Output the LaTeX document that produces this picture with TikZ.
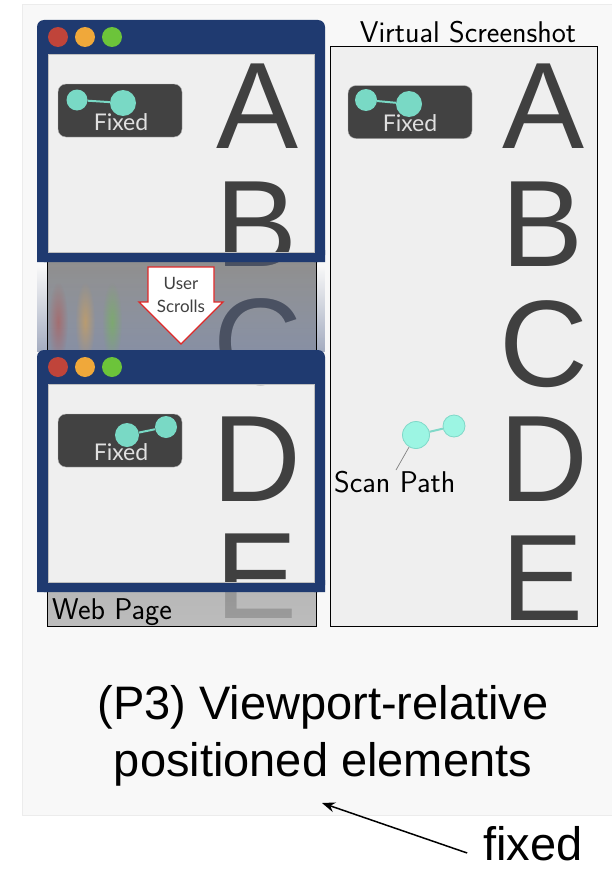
\documentclass[tikz,border=0pt]{standalone}
\usepackage{fontspec}
\newfontfamily\arialfont{Liberation Sans}
\newfontfamily\latofont{Lato}
\usetikzlibrary{fadings,arrows.meta}

\definecolor{panelbg}{HTML}{F8F8F8}
\definecolor{panelline}{HTML}{ECECEC}
\definecolor{pagebg}{HTML}{EFEFEF}
\definecolor{lettergray}{HTML}{404040}
\definecolor{gapletter}{HTML}{4A5162}
\definecolor{shade}{HTML}{838383}
\definecolor{winblue}{HTML}{1F3A70}
\definecolor{dotred}{HTML}{C0443A}
\definecolor{dotorange}{HTML}{F0A83A}
\definecolor{dotgreen}{HTML}{6CC43A}
\definecolor{boxgray}{HTML}{424242}
\definecolor{teal}{HTML}{79D9C5}
\definecolor{scanfill}{HTML}{9CF5E3}
\definecolor{scanline}{HTML}{80D8C8}
\definecolor{ghost}{HTML}{7F8BA8}
\definecolor{scrollred}{HTML}{E02828}

\tikzfading[name=fuzzy, inner color=transparent!0, outer color=transparent!100]

\tikzset{
  bigletter/.style={font=\arialfont\fontsize{123}{123}\selectfont, text=lettergray, inner sep=0pt},
  fixedbox/.style={draw=gray!60, fill=boxgray, rounded corners=8pt, minimum width=124pt, minimum height=53pt, inner sep=0pt},
  fixedtext/.style={font=\latofont\fontsize{23}{23}\selectfont, text=white!88!black, inner sep=0pt, anchor=base},
  tealdot/.style={circle, fill=teal, inner sep=0pt},
  scandot/.style={circle, fill=scanfill, draw=scanline, line width=0.8pt, inner sep=0pt},
  winframe/.style={fill=winblue},
  label/.style={font=\sffamily\fontsize{30}{30}\selectfont, inner sep=0pt},
  bigsans/.style={font=\arialfont\fontsize{47}{57}\selectfont, inner sep=0pt},
}

\begin{document}
\begin{tikzpicture}[x=1pt,y=-1pt]
\useasboundingbox (0,0) rectangle (612,875);

% outer panel
\fill[panelbg] (22,5) rectangle (612,815);
\draw[panelline, line width=1pt] (612,5) -- (22,5) -- (22,815) -- (612,815);

% ---------------- left column: the web page ----------------
\fill[pagebg] (47,46) rectangle (316,626);
\node[bigletter] (pA) at (258,106) {A};
\node[bigletter] (pB) at (257,224) {B};
\node[bigletter] (pC) at (258,342) {C};
\node[bigletter] (pD) at (257,459) {D};
\node[bigletter] (pE) at (257,576) {E};

% grey veil over the part of the page outside both viewports
\fill[shade, fill opacity=0.56, even odd rule]
  (47,46) rectangle (316,626)
  (48,54) rectangle (314,252)
  (48,384) rectangle (314,582);

% motion blur of the scrolling window
\fill[ghost, fill opacity=0.7, path fading=north] (37,266) rectangle (325,352);
\fill[dotred, fill opacity=0.45, path fading=fuzzy] (58,322) ellipse [x radius=10, y radius=40];
\fill[dotorange, fill opacity=0.45, path fading=fuzzy] (85,322) ellipse [x radius=10, y radius=40];
\fill[dotgreen, fill opacity=0.45, path fading=fuzzy] (112,322) ellipse [x radius=10, y radius=40];

% page letters showing through between the two windows
\begin{scope}
  \clip (47,252) rectangle (316,352);
  \node[bigletter, text=gapletter] (gB) at (257,224) {B};
  \node[bigletter, text=gapletter] (gC) at (258,342) {C};
\end{scope}

\draw[black, line width=0.8pt] (47,46) rectangle (316,626);

\node[label, anchor=base west] (webpage) at (52,619) {Web Page};

% window at the top of the page
\fill[winframe, even odd rule]
  [rounded corners=7pt] (37,20) rectangle (325,262)
  [sharp corners] (48,54) rectangle (314,252);
\fill[winframe] (37,250) rectangle (48,262) (314,250) rectangle (325,262);
\draw[gray!50, line width=0.6pt] (48,54) rectangle (314,252);
\fill[dotred] (58,37) circle (10);
\fill[dotorange] (85,37) circle (10);
\fill[dotgreen] (112,37) circle (10);

\node[fixedbox] (fx1) at (120,110.5) {};
\node[tealdot, minimum size=21pt] (c1a) at (77,100) {};
\node[tealdot, minimum size=26pt] (c1b) at (123,103) {};
\draw[teal, line width=2pt] (c1a) -- (c1b);
\node[fixedtext] (t1) at (121,130) {Fixed};

% window after scrolling
\fill[winframe, even odd rule]
  [rounded corners=7pt] (37,350) rectangle (325,592)
  [sharp corners] (48,384) rectangle (314,582);
\fill[winframe] (37,580) rectangle (48,592) (314,580) rectangle (325,592);
\draw[gray!50, line width=0.6pt] (48,384) rectangle (314,582);
\fill[dotred] (58,367) circle (10);
\fill[dotorange] (85,367) circle (10);
\fill[dotgreen] (112,367) circle (10);

\node[fixedbox] (fx2) at (120,440.5) {};
\node[tealdot, minimum size=24pt] (c2a) at (127,435) {};
\node[tealdot, minimum size=22pt] (c2b) at (166,427) {};
\draw[teal, line width=2pt] (c2a) -- (c2b);
\node[fixedtext] (t2) at (121,460) {Fixed};

% scroll arrow
\draw[scrollred, fill=white, line width=1.3pt, line join=miter]
  (148,267) -- (214,267) -- (214,302) -- (223,302) -- (181,344)
  -- (139,302) -- (148,302) -- cycle;
\node[font=\latofont\fontsize{17}{23}\selectfont, text=lettergray, align=center, inner sep=0pt]
  (scroll) at (181,294.5) {User\\Scrolls};

% ---------------- right column: the virtual screenshot ----------------
\node[label, anchor=base] (vstitle) at (468,43) {Virtual Screenshot};
\fill[pagebg] (330,46) rectangle (597,626);
\draw[black, line width=0.8pt] (330,46) rectangle (597,626);
\node[bigletter] (sA) at (544,106) {A};
\node[bigletter] (sB) at (543,224) {B};
\node[bigletter] (sC) at (544,344) {C};
\node[bigletter] (sD) at (544,459) {D};
\node[bigletter] (sE) at (543,578) {E};

\node[fixedbox] (fx3) at (410,112) {};
\node[tealdot, minimum size=22pt] (c3a) at (366,100) {};
\node[tealdot, minimum size=26pt] (c3b) at (409,104) {};
\draw[teal, line width=2pt] (c3a) -- (c3b);
\node[fixedtext] (t3) at (410,131) {Fixed};

% scan path marker
\node[scandot, minimum size=27pt] (s1) at (416,435) {};
\node[scandot, minimum size=22pt] (s2) at (454,426) {};
\draw[scanline, line width=2pt] (s1) -- (s2);
\node[label, anchor=base west] (scan) at (334,492) {Scan Path};
\coordinate (scanend) at (396,470);
\draw[gray, line width=0.7pt] (s1.-120) -- (scanend);

% ---------------- caption ----------------
\node[bigsans, align=center] (cap) at (323,736) {(P3) Viewport-relative\\positioned elements};
\coordinate (captip) at (322,803);
\node[bigsans, anchor=base] (fx) at (533,860) {fixed};
\draw[-{Stealth[length=13pt,width=10pt]}, line width=1.5pt] ([xshift=-16pt,yshift=7pt]fx.base west) -- (captip);
\end{tikzpicture}
\end{document}
